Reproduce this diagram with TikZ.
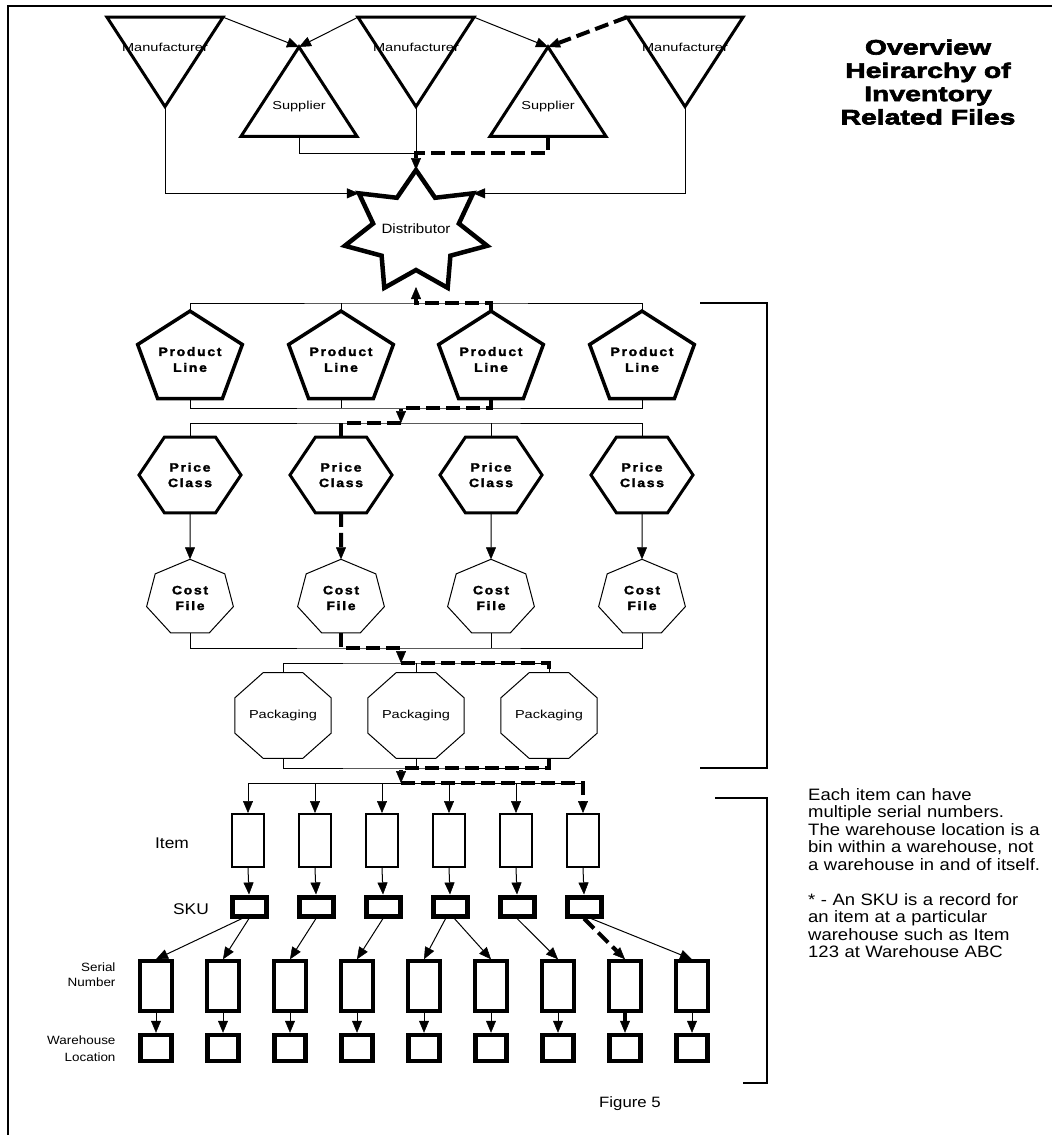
\documentclass[tikz,border=0pt]{standalone}
\usepackage{fontspec}
\setmainfont{Liberation Sans}[FakeStretch=1.12]
\newfontfamily\heavyfont{Liberation Sans}[UprightFont=* Bold, FakeBold=2, LetterSpace=12]
\newfontfamily\titlefont{Liberation Sans}[UprightFont=* Bold, FakeBold=3, FakeStretch=1.35]
\usepackage{tikz}
\usetikzlibrary{positioning, arrows.meta, shapes.geometric, calc}

\tikzset{
    arr/.style={-{Triangle[length=12pt, width=10pt, line width=0.5pt]}},
    link/.style={line width=1pt},
    hilite/.style={line width=4pt, dash pattern=on 14pt off 6pt},
    poly/.style={draw, regular polygon, inner sep=0pt, outer sep=0pt, transform shape},
    tri/.style={poly, regular polygon sides=3, minimum size=134pt, line width=3pt, yscale=0.89,
        font=\fontsize{13}{15}\selectfont},
    pline/.style={poly, regular polygon sides=5, minimum size=94pt, line width=3.5pt, yscale=0.88,
        align=center, font=\heavyfont\fontsize{14}{18}\selectfont},
    pclass/.style={poly, regular polygon sides=6, minimum size=102pt, line width=3pt, yscale=0.86,
        align=center, font=\heavyfont\fontsize{14}{18}\selectfont},
    cfile/.style={poly, regular polygon sides=7, minimum size=89pt, line width=1pt, yscale=0.87,
        align=center, font=\heavyfont\fontsize{14}{18}\selectfont},
    pack/.style={poly, regular polygon sides=8, minimum size=91pt, line width=1pt, yscale=0.89,
        font=\fontsize{13}{15}\selectfont},
    itembox/.style={draw, rectangle, line width=2pt, minimum width=32pt, minimum height=53pt, inner sep=0pt},
    skubox/.style={draw, rectangle, line width=5pt, minimum width=34pt, minimum height=19pt, inner sep=0pt},
    serialbox/.style={draw, rectangle, line width=3.5pt, minimum width=32pt, minimum height=50pt, inner sep=0pt},
    locbox/.style={draw, rectangle, line width=4.5pt, minimum width=31pt, minimum height=26pt, inner sep=0pt}
}

\begin{document}
\begin{tikzpicture}[x=1pt, y=-1pt]
    \useasboundingbox (0,0) rectangle (1052,1135);
    \draw[line width=2pt] (8,1135) -- (8,6) -- (1052,6);

    % manufacturers and suppliers
    \node[tri, regular polygon rotate=180] (m1) at (165,47) {\makebox[0pt]{Manufacturer}};
    \node[tri, regular polygon rotate=180] (m2) at (416,47) {\makebox[0pt]{Manufacturer}};
    \node[tri, regular polygon rotate=180] (m3) at (685,47) {\makebox[0pt]{Manufacturer}};
    \node[tri] (s1) at (299,106.6) {\makebox[0pt]{Supplier}};
    \node[tri] (s2) at (548,106.6) {\makebox[0pt]{Supplier}};

    % distributor star
    \foreach \k in {0,...,6} {
        \coordinate (so\k) at ($(416,232)+({270+\k*360/7}:73 and 62)$);
        \coordinate (si\k) at ($(416,232)+({270+(\k+0.5)*360/7}:44 and 38)$);
    }
    \draw[line width=4.5pt] (so0) -- (si0) -- (so1) -- (si1) -- (so2) -- (si2) -- (so3) -- (si3)
        -- (so4) -- (si4) -- (so5) -- (si5) -- (so6) -- (si6) -- cycle;
    \node[font=\fontsize{13.5}{15}\selectfont] (dist) at (416,229) {Distributor};

    % product lines, price classes, cost files
    \foreach \x [count=\i] in {190,341,491,642} {
        \node[pline] (pl\i) at (\x,359.5) {Product\\Line};
        \node[pclass] (pc\i) at (\x,475) {Price\\Class};
        \node[cfile] (cf\i) at (\x,598) {Cost\\File};
    }
    \foreach \x [count=\i] in {283,416,549}
        \node[pack] (pk\i) at (\x,715.5) {Packaging};

    % items, skus, serial numbers, locations
    \foreach \i in {1,...,6} {
        \node[itembox] (it\i) at ({248+67*(\i-1)},840.5) {};
        \node[skubox] (sku\i) at ({249+67*(\i-1)},906.5) {};
    }
    \foreach \i in {1,...,9} {
        \node[serialbox] (sn\i) at ({156+67*(\i-1)},986) {};
        \node[locbox] (wh\i) at ({156+67*(\i-1)},1048) {};
    }

    % row labels
    \node[font=\fontsize{15.5}{17}\selectfont] (itemlbl) at (172,843) {Item};
    \node[font=\fontsize{15.5}{17}\selectfont] (skulbl) at (191,909) {SKU};
    \node[anchor=east, align=right, font=\fontsize{12}{15}\selectfont] (snlbl) at (119,975) {Serial\\Number};
    \node[anchor=east, align=right, font=\fontsize{12}{17}\selectfont] (whlbl) at (119,1049) {Warehouse\\Location};

    % top connectors
    \coordinate (jn) at (416,153);
    \draw[link, arr] (m1.corner 2) -- (s1.north);
    \draw[link, arr] (m2.corner 3) -- (s1.north);
    \draw[link, arr] (m2.corner 2) -- (s2.north);
    \draw[link] (s1.south) |- (jn);
    \draw[link] (m2.south) -- (jn);
    \draw[link, arr] (m1.south) |- (so6);
    \draw[link, arr] (m3.south) |- (so1);

    % buses between the rows
    \coordinate (dst) at (416,287);
    \coordinate (b1) at (416,303);
    \coordinate (b2) at (401,408);
    \coordinate (b3) at (401,423);
    \coordinate (b4) at (401,648);
    \coordinate (b5) at (401,663);
    \coordinate (b6) at (401,768);
    \coordinate (b7) at (401,783);
    \draw[link] (pl1.north) |- (b1) -| (pl4.north);
    \draw[link] (pl2.north) -- (pl2.north |- b1);
    \draw[link] (pl1.south) |- (b2) -| (pl4.south);
    \draw[link] (pl2.south) -- (pl2.south |- b2);
    \draw[link] (pc1.north) |- (b3) -| (pc4.north);
    \draw[link] (pc3.north) -- (pc3.north |- b3);
    \foreach \i in {1,3,4}
        \draw[link, arr] (pc\i.south) -- (cf\i.north);
    \draw[link] (cf1.south) |- (b4) -| (cf4.south);
    \draw[link] (cf3.south) -- (cf3.south |- b4);
    \draw[link] (pk1.north) |- (b5) -| (pk3.north);
    \draw[link] (pk2.north) -- (pk2.north |- b5);
    \draw[link] (pk1.south) |- (b6) -| (pk3.south);
    \draw[link] (pk2.south) -- (pk2.south |- b6);
    \draw[link] (it1.north |- b7) -- (it6.north |- b7);
    \foreach \i in {1,...,5}
        \draw[link, arr] (it\i.north |- b7) -- (it\i.north);
    \foreach \i in {1,...,6}
        \draw[link, arr] (it\i.south) -- (sku\i.north);
    \draw[link, arr] (sku1.240) -- (sn1.north);
    \draw[link, arr] (sku1.south) -- (sn2.north);
    \draw[link, arr] (sku2.south) -- (sn3.north);
    \draw[link, arr] (sku3.south) -- (sn4.north);
    \draw[link, arr] (sku4.250) -- (sn5.north);
    \draw[link, arr] (sku4.290) -- (sn6.north);
    \draw[link, arr] (sku5.south) -- (sn7.north);
    \draw[link, arr] (sku6.300) -- (sn9.north);
    \foreach \i in {1,...,7,9}
        \draw[link, arr] (sn\i.south) -- (wh\i.north);

    % highlighted path
    \draw[hilite, arr] (m3.corner 3) -- (s2.north);
    \draw[hilite, arr] (s2.south) |- (jn) -- (so0);
    \draw[hilite, arr] (pl3.north) |- (b1) -- (dst);
    \draw[hilite, arr] (pl3.south) |- (b2) -- (b3);
    \draw[hilite] (b3) -| (pc2.north);
    \draw[hilite, arr] (pc2.south) -- (cf2.north);
    \draw[hilite, arr] (cf2.south) |- (b4) -- (b5);
    \draw[hilite] (b5) -| (pk3.north);
    \draw[hilite, arr] (pk3.south) |- (b6) -- (b7);
    \draw[hilite, arr] (b7) -| (it6.north);
    \draw[hilite, arr] (sku6.south) -- (sn8.north);
    \draw[hilite, arr] (sn8.south) -- (wh8.north);

    % brackets
    \draw[line width=2pt] (700,303) -- (767,303) -- (767,768) -- (700,768);
    \draw[line width=2pt] (715,798) -- (767,798) -- (767,1083) -- (743,1083);

    % texts
    \node[align=center, font=\titlefont\fontsize{21}{23.3}\selectfont] (title) at (928,82)
        {Overview\\Heirarchy of\\Inventory\\Related Files};
    \node[anchor=north west, align=left, text width=250pt, inner sep=0pt,
        font=\fontsize{16.5}{17.5}\selectfont] (note) at (808,788)
        {Each item can have\\multiple serial numbers.\\The warehouse location is a\\bin within a warehouse, not\\a warehouse in and of itself.\\[17.5pt]
         * - An SKU is a record for\\an item at a particular\\warehouse such as Item\\123 at Warehouse ABC};
    \node[font=\fontsize{15}{17}\selectfont] (fig) at (630,1104) {Figure 5};
\end{tikzpicture}
\end{document}
